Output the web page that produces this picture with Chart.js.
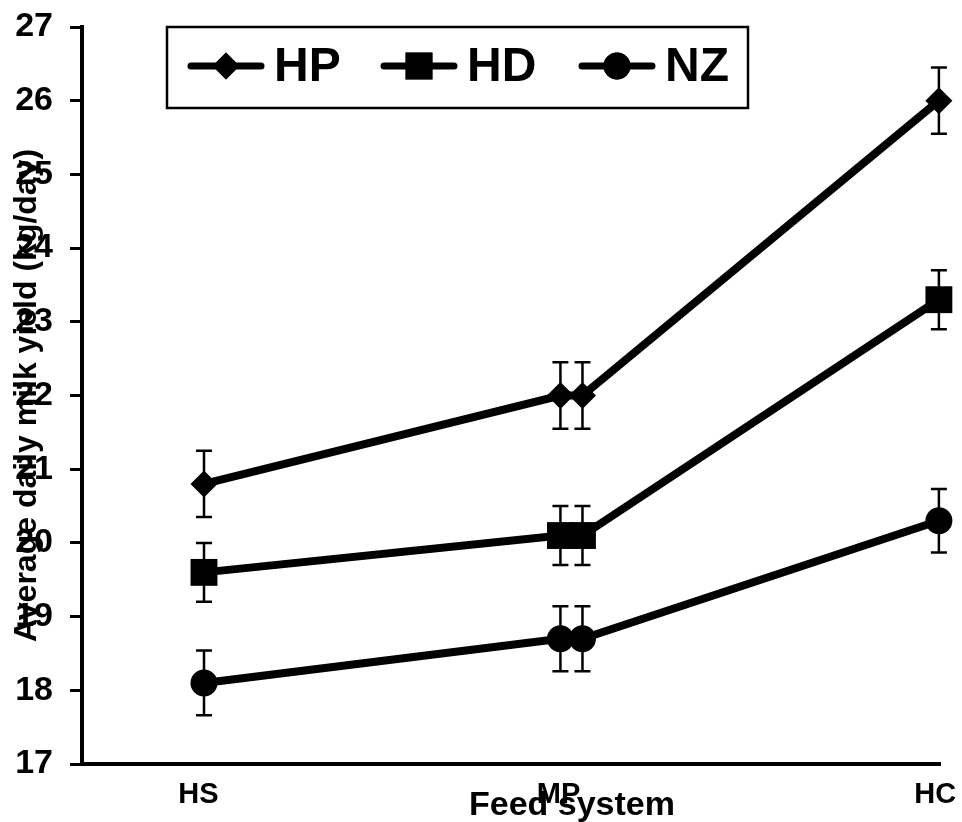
<!DOCTYPE html>
<html>
<head>
<meta charset="utf-8">
<script src="https://cdn.jsdelivr.net/npm/chart.js@4.4.1/dist/chart.umd.min.js"></script>
<style>
  html, body { margin: 0; padding: 0; background: #fff; }
  #wrap { width: 962px; height: 822px; }
</style>
</head>
<body>
<div id="wrap"><canvas id="milkChart"></canvas></div>
<script>
// feed systems and where their labels sit on the x axis
const feedSystems = ['HS', 'MP', 'HC'];
const feedTickPos = [0.985, 1.965, 2.99];

// x positions of the plotted points (MP appears twice, side by side)
const pointX = [1, 1.97, 2.03, 3];

// average daily milk yield (kg/day) and error bars
const hpMean = [20.8, 22.0, 22.0, 26.0];
const hpErr = [0.45, 0.45, 0.45, 0.45];
const hdMean = [19.6, 20.1, 20.1, 23.3];
const hdErr = [0.40, 0.40, 0.40, 0.40];
const nzMean = [18.1, 18.7, 18.7, 20.3];
const nzErr = [0.44, 0.44, 0.44, 0.43];

const FONT = "Arial, 'Liberation Sans', sans-serif";

function toPoints(values) {
    return values.map((v, i) => ({ x: pointX[i], y: v }));
}

const seriesStyle = [
    { label: 'HP', data: hpMean, err: hpErr, pointStyle: 'rectRot', radius: 13.5 },
    { label: 'HD', data: hdMean, err: hdErr, pointStyle: 'rect', radius: 19 },
    { label: 'NZ', data: nzMean, err: nzErr, pointStyle: 'circle', radius: 13.5 }
];

// error bars drawn through the chart's own scales
const errorBars = {
    id: 'errorBars',
    afterDatasetsDraw(chart) {
        const ctx = chart.ctx;
        const xs = chart.scales.x;
        const ys = chart.scales.y;
        ctx.save();
        ctx.strokeStyle = '#000';
        ctx.lineWidth = 2.5;
        chart.data.datasets.forEach(ds => {
            ds.data.forEach((p, i) => {
                const px = xs.getPixelForValue(p.x);
                const top = ys.getPixelForValue(p.y + ds.errors[i]);
                const bot = ys.getPixelForValue(p.y - ds.errors[i]);
                ctx.beginPath();
                ctx.moveTo(px, top);
                ctx.lineTo(px, bot);
                ctx.moveTo(px - 8, top);
                ctx.lineTo(px + 8, top);
                ctx.moveTo(px - 8, bot);
                ctx.lineTo(px + 8, bot);
                ctx.stroke();
            });
        });
        ctx.restore();
    }
};

// boxed legend and x axis title
const extras = {
    id: 'extras',
    afterDraw(chart) {
        const ctx = chart.ctx;
        ctx.save();
        // x title
        ctx.fillStyle = '#000';
        ctx.font = 'bold 34px ' + FONT;
        ctx.textAlign = 'center';
        ctx.textBaseline = 'alphabetic';
        ctx.fillText('Feed system', 572, 815);

        // legend
        ctx.lineWidth = 2.5;
        ctx.strokeStyle = '#000';
        ctx.strokeRect(167, 27, 581, 81);
        const starts = [191, 384, 582];
        const ly = 66;
        seriesStyle.forEach((s, i) => {
            const x0 = starts[i];
            ctx.lineWidth = 7;
            ctx.lineCap = 'round';
            ctx.beginPath();
            ctx.moveTo(x0, ly);
            ctx.lineTo(x0 + 70, ly);
            ctx.stroke();
            Chart.helpers.drawPoint(ctx, {
                pointStyle: s.pointStyle,
                radius: s.radius,
                rotation: 0,
                borderWidth: 0
            }, x0 + 35, ly);
            ctx.fill();
            ctx.font = 'bold 48px ' + FONT;
            ctx.textAlign = 'left';
            ctx.textBaseline = 'middle';
            ctx.fillText(s.label, x0 + 83, ly + 2);
        });
        ctx.restore();
    }
};

function noEdgePadding(scale) {
    scale.paddingTop = 0;
    scale.paddingBottom = 0;
    scale.paddingLeft = 0;
    scale.paddingRight = 0;
}

const ctx = document.getElementById('milkChart').getContext('2d');
new Chart(ctx, {
    type: 'line',
    data: {
        datasets: seriesStyle.map(s => ({
            label: s.label,
            data: toPoints(s.data),
            errors: s.err,
            borderColor: '#000',
            backgroundColor: '#000',
            borderWidth: 8,
            pointStyle: s.pointStyle,
            pointRadius: s.radius,
            pointBorderWidth: 0,
            pointBackgroundColor: '#000',
            tension: 0,
            clip: false
        }))
    },
    options: {
        responsive: true,
        maintainAspectRatio: false,
        animation: false,
        layout: { padding: { left: 0, top: 27, right: 22, bottom: 0 } },
        plugins: {
            legend: { display: false },
            tooltip: { enabled: false }
        },
        scales: {
            x: {
                type: 'linear',
                min: 0.668,
                max: 3.003,
                afterBuildTicks(scale) {
                    scale.ticks = feedTickPos.map(v => ({ value: v }));
                },
                afterFit(scale) {
                    scale.height = 58;
                    noEdgePadding(scale);
                },
                grid: { display: false },
                border: { display: true, color: '#000', width: 4 },
                ticks: {
                    color: '#000',
                    padding: 6,
                    maxRotation: 0,
                    autoSkip: false,
                    font: { family: FONT, size: 29, weight: 'bold' },
                    callback: (v, i) => feedSystems[i]
                }
            },
            y: {
                min: 17,
                max: 27,
                afterFit(scale) {
                    scale.width = 82;
                    noEdgePadding(scale);
                },
                grid: {
                    display: true,
                    drawOnChartArea: false,
                    drawTicks: true,
                    tickLength: 12,
                    lineWidth: 3,
                    color: '#000'
                },
                border: { display: true, color: '#000', width: 4 },
                ticks: {
                    stepSize: 1,
                    color: '#000',
                    padding: 17,
                    font: { family: FONT, size: 34, weight: 'bold' }
                },
                title: {
                    display: true,
                    text: 'Average daily milk yield (kg/day)',
                    color: '#000',
                    padding: { top: 8, bottom: 0 },
                    font: { family: FONT, size: 32, weight: 'bold' }
                }
            }
        }
    },
    plugins: [errorBars, extras]
});
</script>
</body>
</html>
